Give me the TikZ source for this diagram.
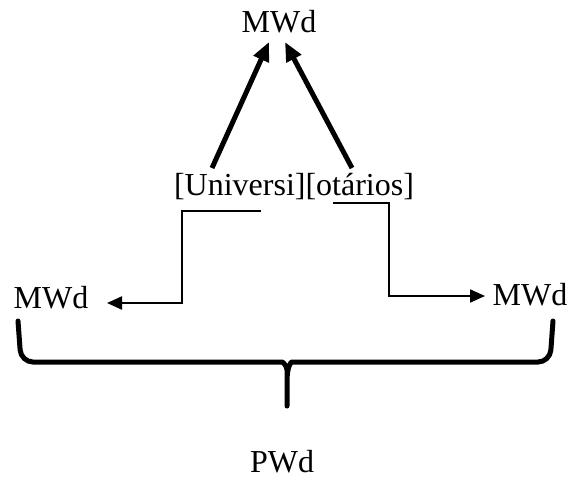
\documentclass[tikz,border=0pt]{standalone}
\usepackage{fontspec}
\setmainfont{Liberation Serif}
\usetikzlibrary{arrows.meta}
\begin{document}
\begin{tikzpicture}[x=0.5pt, y=-0.5pt,
	lbl/.style={inner sep=0pt, anchor=base, font=\fontsize{16}{19}\selectfont},
	boldarrow/.style={line width=2.5pt, -{Triangle[length=9.5pt, width=8pt]}},
	elbow/.style={line width=1.1pt, -{Triangle[length=7.5pt, width=6.5pt]}}]
		\useasboundingbox (0,0) rectangle (579,477);
		\node[lbl] (mtop) at (279,32) {MWd};
		\node[lbl] (uo) at (294,195) {[Universi][otários]};
		\node[lbl] (mleft) at (51,308) {MWd};
		\node[lbl] (mright) at (530,305) {MWd};
		\node[lbl] (pwd) at (282,472) {PWd};
		% bold arrows up to the top
		\coordinate (utail) at (212,168);
		\coordinate (otail) at (352,168);
		\coordinate (uhead) at (269,42);
		\coordinate (ohead) at (285,42);
		\draw[boldarrow] (utail) -- (uhead);
		\draw[boldarrow] (otail) -- (ohead);
		% elbow connectors
		\coordinate (lstart) at (261,211);
		\coordinate (ltip) at (107,303);
		\coordinate (rstart) at (333,203);
		\coordinate (rtip) at (485,296);
		\draw[elbow] (lstart) -- (182,211) |- (ltip);
		\draw[elbow] (rstart) -- (389,203) |- (rtip);
		% brace
		\draw[line width=2.5pt, line cap=round, rounded corners=6]
		(18,321) -- (21,362) -- (270,362) .. controls (283,362) and (287,366) .. (287,382) -- (287,406)
		(287,382) .. controls (287,366) and (291,362) .. (304,362) -- (550,362) -- (553,321);
\end{tikzpicture}
\end{document}
